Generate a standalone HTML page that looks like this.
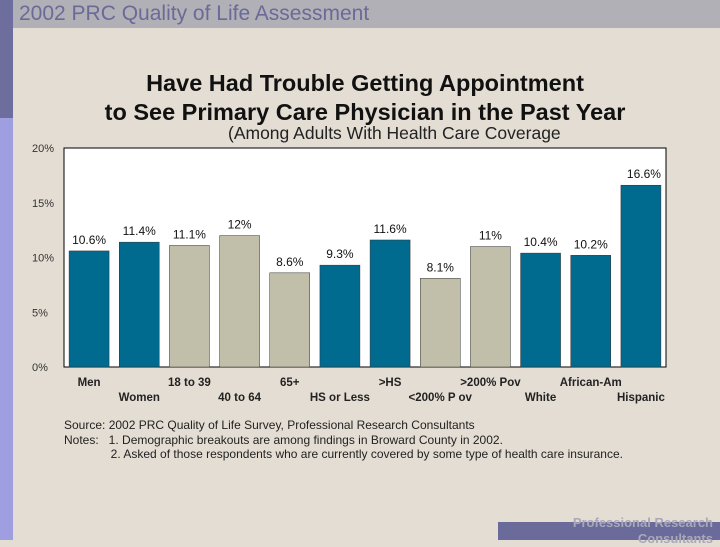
<!DOCTYPE html>
<html><head><meta charset="utf-8"><style>
body{margin:0;width:720px;height:540px;overflow:hidden;background:#e4ddd3;font-family:"Liberation Sans",sans-serif;position:relative}
.a{position:absolute}
</style></head><body>
<div class="a" style="left:0;top:0;width:13px;height:118px;background:#6e6e9e"></div>
<div class="a" style="left:0;top:118px;width:13px;height:422px;background:#9e9ee0"></div>
<div class="a" style="left:13px;top:0;width:707px;height:28px;background:#b1b0b6"></div>
<div class="a" style="left:19px;top:2px;font-size:21px;color:#6a6a98;">2002 PRC Quality of Life Assessment</div>
<div class="a" style="left:0;width:730px;top:69px;text-align:center;font-size:23.5px;font-weight:bold;line-height:29px;color:#111">Have Had Trouble Getting Appointment<br>to See Primary Care Physician in the Past Year</div>
<div class="a" style="left:228px;top:123px;font-size:17.5px;color:#222;">(Among Adults With Health Care Coverage</div>
<svg class="a" style="left:0;top:0" width="720" height="540" id="chart"></svg>
<div class="a" style="left:64px;top:418px;font-size:12px;line-height:14.5px;color:#222">Source: 2002 PRC Quality of Life Survey, Professional Research Consultants<br>Notes:&nbsp;&nbsp; 1. Demographic breakouts are among findings in Broward County in 2002.<br>&nbsp;&nbsp;&nbsp;&nbsp;&nbsp;&nbsp;&nbsp;&nbsp;&nbsp;&nbsp;&nbsp;&nbsp;&nbsp;&nbsp;2. Asked of those respondents who are currently covered by some type of health care insurance.</div>
<div class="a" style="left:498px;top:522px;width:222px;height:18px;background:#6b6b9b"></div>
<div class="a" style="left:500px;top:515px;width:213px;text-align:right;font-size:13px;font-weight:bold;color:#a8a8b8;line-height:16px">Professional Research<br>Consultants</div>
<script>
const categories=["Men","Women","18 to 39","40 to 64","65+","HS or Less",">HS","<200% P ov",">200% Pov","White","African-Am","Hispanic"];
const values=[10.6,11.4,11.1,12,8.6,9.3,11.6,8.1,11,10.4,10.2,16.6];
const valueLabels=["10.6%","11.4%","11.1%","12%","8.6%","9.3%","11.6%","8.1%","11%","10.4%","10.2%","16.6%"];
const groups=[0,0,1,1,1,0,0,1,1,0,0,0];
const yTicks=[0,5,10,15,20];
const NS="http://www.w3.org/2000/svg";
const svg=document.getElementById('chart');
const X0=64,X1=666,Y0=367,Y1=148;
const slot=(X1-X0)/categories.length;
const y=v=>Y0-(v/20)*(Y0-Y1);
const x=i=>X0+slot*i+slot/2;
function mk(t,a){const e=document.createElementNS(NS,t);for(const k in a)e.setAttribute(k,a[k]);svg.appendChild(e);return e;}
const plot=mk('rect',{x:X0,y:Y1,width:X1-X0,height:Y0-Y1,fill:'#fff',stroke:'#000','stroke-width':1});


yTicks.forEach(t=>{
 const tx=mk('text',{x:32,y:y(t)+4,'font-size':11,'font-family':'Liberation Sans',fill:'#333'});
 tx.textContent=t+'%';
 
 
});
categories.forEach((c,i)=>{
 const b=mk('rect',{x:x(i)-20,y:y(values[i]),width:40,height:Y0-y(values[i]),fill:groups[i]?'#c1bfa9':'#006a8f',stroke:'#333','stroke-width':0.5});
 
 
 const vl=mk('text',{x:x(i)+(i==11?3:0),y:y(values[i])-7,'text-anchor':'middle','font-size':12,'font-family':'Liberation Sans',fill:'#111'});
 vl.textContent=valueLabels[i];
 
 
 const cl=mk('text',{x:x(i),y:i%2?401:386,'text-anchor':'middle','font-size':11.5,'font-family':'Liberation Sans','font-weight':'bold',fill:'#222'});
 cl.textContent=c;
 
 
});
</script>
</body></html>
